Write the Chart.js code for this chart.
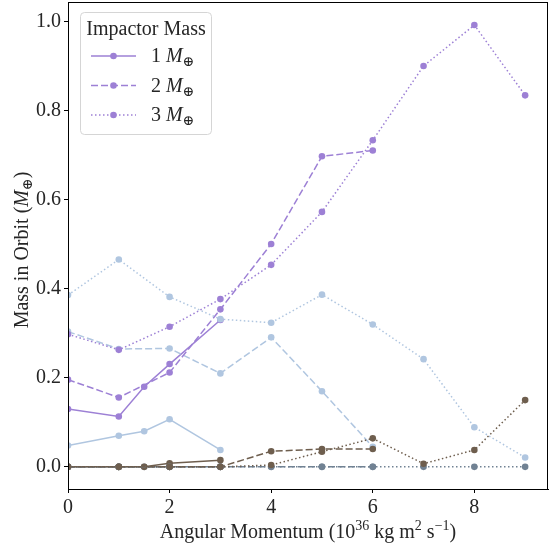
<!DOCTYPE html>
<html>
<head>
<meta charset="utf-8">
<script src="https://cdn.jsdelivr.net/npm/chart.js@4.4.1/dist/chart.umd.min.js"></script>
<style>
  html, body { margin: 0; padding: 0; background: #fff; }
  #wrap { width: 549px; height: 544px; }
</style>
</head>
<body>
<div id="wrap"><canvas id="chart" width="549" height="544"></canvas></div>
<script>
// x positions (angular momentum, 10^36 kg m^2 s^-1) for each impactor mass run set
const solidX = [0, 1, 1.5, 2, 3];
const dashedX = [0, 1, 2, 3, 4, 5, 6];
const dottedX = [0, 1, 2, 3, 4, 5, 6, 7, 8, 9];

// mass in orbit (Earth masses)
const purpleSolid = [0.130, 0.113, 0.180, 0.231, 0.330];
const purpleDashed = [0.196, 0.156, 0.212, 0.354, 0.501, 0.698, 0.711];
const purpleDotted = [0.298, 0.263, 0.315, 0.377, 0.454, 0.573, 0.734, 0.901, 0.993, 0.835];

const blueSolid = [0.048, 0.070, 0.080, 0.107, 0.038];
const blueDashed = [0.304, 0.265, 0.266, 0.210, 0.291, 0.170, 0.045];
const blueDotted = [0.386, 0.466, 0.382, 0.332, 0.324, 0.387, 0.320, 0.242, 0.089, 0.021];

const brownSolid = [0, 0, 0, 0.008, 0.015];
const brownDashed = [0, 0, 0, 0, 0.035, 0.040, 0.040];
const brownDotted = [0, 0, 0, 0, 0.004, 0.034, 0.064, 0.007, 0.038, 0.150];

const slateSolid = [0, 0, 0, 0, 0];
const slateDashed = [0, 0, 0, 0, 0, 0, 0];
const slateDotted = [0, 0, 0, 0, 0, 0, 0, 0, 0, 0];

const legendLabels = ['1', '2', '3'];
const xTicks = [0, 2, 4, 6, 8];
const yTicks = [0, 0.2, 0.4, 0.6, 0.8, 1.0];

const PURPLE = '#9d80d5';
const BLUE = '#b0c6e0';
const BROWN = '#6e5e4e';
const SLATE = '#718293';

const DASHED = [7, 3];
const DOTTED = [1.5, 2.5];
const SERIF = '"Liberation Serif", "DejaVu Serif", serif';

function series(xs, ys, color, dash, order) {
  return {
    data: xs.map((x, i) => ({x: x, y: ys[i]})),
    borderColor: color,
    backgroundColor: color,
    pointBackgroundColor: color,
    pointBorderColor: color,
    borderWidth: 1.5,
    borderDash: dash,
    pointRadius: 3.3,
    pointBorderWidth: 0,
    tension: 0,
    order: order
  };
}

// lower order = drawn on top
const datasets = [
  series(solidX, slateSolid, SLATE, [], 12),
  series(solidX, blueSolid, BLUE, [], 11),
  series(solidX, purpleSolid, PURPLE, [], 10),
  series(solidX, brownSolid, BROWN, [], 9),
  series(dashedX, slateDashed, SLATE, DASHED, 8),
  series(dashedX, blueDashed, BLUE, DASHED, 7),
  series(dashedX, purpleDashed, PURPLE, DASHED, 6),
  series(dashedX, brownDashed, BROWN, DASHED, 5),
  series(dottedX, slateDotted, SLATE, DOTTED, 4),
  series(dottedX, blueDotted, BLUE, DOTTED, 3),
  series(dottedX, purpleDotted, PURPLE, DOTTED, 2),
  series(dottedX, brownDotted, BROWN, DOTTED, 1)
];

// draws a list of text pieces; kinds: normal, it (italic), sub, sup
function drawRich(ctx, parts, x, y, size, align) {
  const fontFor = (p) => {
    const s = (p.kind === 'sub' || p.kind === 'sup') ? size * 0.7 : size;
    return (p.kind === 'it' ? 'italic ' : '') + s + 'px ' + SERIF;
  };
  let total = 0;
  parts.forEach(p => { ctx.font = fontFor(p); p.w = ctx.measureText(p.t).width; total += p.w; });
  let cx = align === 'center' ? x - total / 2 : x;
  ctx.textAlign = 'left';
  ctx.textBaseline = 'alphabetic';
  parts.forEach(p => {
    ctx.font = fontFor(p);
    let dy = 0;
    if (p.kind === 'sup') dy = -size * 0.38;
    if (p.kind === 'sub') dy = size * 0.22;
    ctx.fillText(p.t, cx, y + dy);
    cx += p.w;
  });
}

const extras = {
  id: 'extras',
  afterDraw(chart) {
    const ctx = chart.ctx;
    const a = chart.chartArea;
    ctx.save();

    // frame
    ctx.strokeStyle = '#000';
    ctx.lineWidth = 1;
    ctx.strokeRect(a.left + 0.5, a.top + 0.5, a.right - a.left - 1, a.bottom - a.top);

    ctx.fillStyle = '#262626';
    // x title
    drawRich(ctx, [
      {t: 'Angular Momentum (10'}, {t: '36', kind: 'sup'}, {t: ' kg m'},
      {t: '2', kind: 'sup'}, {t: ' s'}, {t: '\u22121', kind: 'sup'}, {t: ')'}
    ], (a.left + a.right) / 2, 538, 20, 'center');

    // y title
    ctx.save();
    ctx.translate(28, 250);
    ctx.rotate(-Math.PI / 2);
    drawRich(ctx, [
      {t: 'Mass in Orbit ('}, {t: 'M', kind: 'it'}, {t: '\u2295', kind: 'sub'}, {t: ')'}
    ], 0, 0, 20, 'center');
    ctx.restore();

    // legend
    const lx = 80.5, ly = 12.5, lw = 131, lh = 122;
    ctx.beginPath();
    ctx.roundRect(lx, ly, lw, lh, 4);
    ctx.fillStyle = 'rgba(255,255,255,0.8)';
    ctx.fill();
    ctx.strokeStyle = '#d5d5d5';
    ctx.lineWidth = 1;
    ctx.stroke();

    ctx.fillStyle = '#262626';
    ctx.font = '20px ' + SERIF;
    ctx.textAlign = 'center';
    ctx.textBaseline = 'middle';
    ctx.fillText('Impactor Mass', lx + lw / 2, 30);

    const dashes = [[], DASHED, DOTTED];
    legendLabels.forEach((lab, i) => {
      const y = 56 + i * 29.5;
      ctx.strokeStyle = PURPLE;
      ctx.fillStyle = PURPLE;
      ctx.lineWidth = 1.5;
      ctx.setLineDash(dashes[i]);
      ctx.beginPath();
      ctx.moveTo(91, y);
      ctx.lineTo(136, y);
      ctx.stroke();
      ctx.setLineDash([]);
      ctx.beginPath();
      ctx.arc(113.5, y, 3.3, 0, Math.PI * 2);
      ctx.fill();
      ctx.fillStyle = '#262626';
      drawRich(ctx, [{t: lab + ' '}, {t: 'M', kind: 'it'}, {t: '\u2295', kind: 'sub'}], 151, y + 6, 20, 'left');
    });

    ctx.restore();
  }
};

new Chart(document.getElementById('chart'), {
  type: 'line',
  data: {datasets: datasets},
  options: {
    responsive: false,
    animation: false,
    layout: {autoPadding: false, padding: {top: 2, right: 1, left: 0, bottom: 0}},
    plugins: {legend: {display: false}, tooltip: {enabled: false}},
    scales: {
      x: {
        type: 'linear',
        min: 0,
        max: 9.45,
        afterFit: (s) => { s.height = 55; s.paddingLeft = 0; s.paddingRight = 0; },
        afterBuildTicks: (s) => { s.ticks = xTicks.map(v => ({value: v})); },
        ticks: {
          color: '#262626',
          font: {family: SERIF, size: 20},
          padding: 3,
          maxRotation: 0,
          callback: (v) => String(v)
        },
        grid: {drawOnChartArea: false, drawTicks: true, tickLength: 4, color: '#000'},
        border: {display: true, color: '#000', width: 1}
      },
      y: {
        type: 'linear',
        min: -0.0498,
        max: 1.0448,
        afterFit: (s) => { s.width = 68; s.paddingTop = 0; s.paddingBottom = 0; },
        afterBuildTicks: (s) => { s.ticks = yTicks.map(v => ({value: v})); },
        ticks: {
          color: '#262626',
          font: {family: SERIF, size: 20},
          padding: 3,
          callback: (v) => v.toFixed(1)
        },
        grid: {drawOnChartArea: false, drawTicks: true, tickLength: 4, color: '#000'},
        border: {display: true, color: '#000', width: 1}
      }
    }
  },
  plugins: [extras]
});
</script>
</body>
</html>
